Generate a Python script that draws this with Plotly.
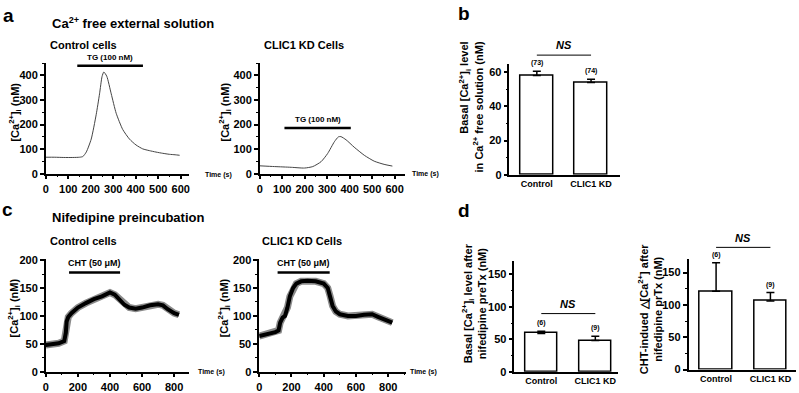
import plotly.graph_objects as go

# ---------------- data ----------------
# panel a : Ca2+ free external solution, TG (100 nM)
a_ctrl_t = [0, 40, 80, 120, 150, 165, 180, 202, 224, 239, 250, 258, 271, 291, 313, 342, 372, 401, 431, 460, 490, 520, 549, 575, 595]
a_ctrl_ca = [67, 67, 66, 66, 67, 70, 88, 141, 240, 325, 395, 414, 397, 325, 246, 180, 141, 117, 101, 94, 88, 83, 79, 77, 75]
a_kd_t = [0, 66, 140, 199, 236, 273, 302, 332, 350, 361, 384, 420, 465, 509, 553, 590]
a_kd_ca = [32, 29, 26, 23, 29, 49, 82, 130, 150, 151, 138, 108, 75, 51, 38, 31]
tg_ctrl = [140, 432]
tg_kd = [110, 405]

# panel c : nifedipine preincubation, CHT (50 uM)
c_ctrl_t = [0, 40, 80, 115, 125, 130, 140, 160, 200, 250, 300, 350, 400, 430, 460, 490, 520, 560, 600, 650, 700, 730, 760, 800, 830]
c_ctrl_ca = [48, 49, 51, 55, 70, 90, 98, 105, 115, 123, 130, 135, 142, 138, 130, 120, 115, 113, 115, 119, 121, 119, 112, 105, 102]
c_kd_t = [0, 50, 100, 120, 130, 145, 160, 175, 190, 210, 230, 260, 300, 350, 400, 425, 440, 455, 475, 500, 550, 600, 650, 700, 740, 780, 825]
c_kd_ca = [64, 67, 71, 74, 88, 97, 100, 115, 135, 150, 158, 162, 163, 162, 158, 150, 135, 118, 108, 103, 100, 100, 102, 103, 98, 94, 88]
cht_ctrl = [145, 463]
cht_kd = [114, 437]

# bar panels
groups = ["Control", "CLIC1 KD"]
b_mean = [58, 54]
b_sem = [2.6, 1.8]
b_n = ["(73)", "(74)"]
d1_mean = [59, 48]
d1_sem = [3.5, 6.5]
d1_n = ["(6)", "(9)"]
d2_mean = [121, 106]
d2_sem = [44, 13]
d2_n = ["(6)", "(9)"]

# ---------------- layout helpers ----------------
W, H = 799, 393
FONT = "Liberation Sans, Arial, sans-serif"


def px(x):
    return x / W


def py(y):
    return 1 - y / H


fig = go.Figure()

line_ax = dict(showline=True, linecolor="black", linewidth=1.5, showgrid=False, zeroline=False,
               ticks="outside", ticklen=4, tickwidth=1.5, tickcolor="black",
               tickfont=dict(family=FONT, size=11, color="black", weight="bold"))


def xa(dom, rng, dtick, minor):
    d = dict(line_ax)
    d.update(domain=[px(dom[0]), px(dom[1])], range=rng, dtick=dtick, tick0=0,
             minor=dict(dtick=minor, ticks="outside", ticklen=2, tickwidth=1, tickcolor="black"))
    return d


def ya(dom, rng, dtick, minor):
    d = dict(line_ax)
    d.update(domain=[py(dom[1]), py(dom[0])], range=rng, dtick=dtick, tick0=0,
             minor=dict(dtick=minor, ticks="outside", ticklen=2, tickwidth=1, tickcolor="black"))
    return d


def xcat(dom, rng):
    d = dict(line_ax)
    d.update(domain=[px(dom[0]), px(dom[1])], range=rng, type="category", ticks="",
             tickfont=dict(family=FONT, size=9, color="black", weight="bold"))
    return d


layout_axes = {
    "xaxis": xa([43, 187], [0, 637], 100, 50), "yaxis": ya([60, 174], [0, 450], 100, 50),
    "xaxis2": xa([258, 404], [0, 646], 100, 50), "yaxis2": ya([60, 174], [0, 450], 100, 50),
    "xaxis3": xcat([509, 620], [-0.505, 1.532]), "yaxis3": ya([60.5, 175], [0, 65], 20, 10),
    "xaxis4": xa([43, 187], [0, 893], 200, 100), "yaxis4": ya([262, 378.3], [0, 202], 50, 25),
    "xaxis5": xa([257.5, 405], [0, 910], 200, 100), "yaxis5": ya([262, 378.3], [0, 202], 50, 25),
    "xaxis6": xcat([514, 618], [-0.497, 1.418]), "yaxis6": ya([264, 378.3], [0, 170.6], 50, 25),
    "xaxis7": xcat([689, 797], [-0.507, 1.471]), "yaxis7": ya([261.7, 376], [0, 171.4], 50, 25),
}
for i in range(1, 8):
    s = "" if i == 1 else str(i)
    layout_axes["xaxis" + s]["anchor"] = "y" + s
    layout_axes["yaxis" + s]["anchor"] = "x" + s

# ---------------- traces ----------------
fig.add_trace(go.Scatter(x=a_ctrl_t, y=a_ctrl_ca, mode="lines", line=dict(color="#444", width=1, shape="spline", smoothing=0.6), xaxis="x", yaxis="y"))
fig.add_trace(go.Scatter(x=a_kd_t, y=a_kd_ca, mode="lines", line=dict(color="#444", width=1, shape="spline", smoothing=0.6), xaxis="x2", yaxis="y2"))

for t, c, ax in [(c_ctrl_t, c_ctrl_ca, "4"), (c_kd_t, c_kd_ca, "5")]:
    fig.add_trace(go.Scatter(x=t, y=c, mode="lines", line=dict(color="#8a8a8a", width=7), xaxis="x" + ax, yaxis="y" + ax))
    fig.add_trace(go.Scatter(x=t, y=c, mode="lines", line=dict(color="black", width=4), xaxis="x" + ax, yaxis="y" + ax))

bar_style = dict(marker=dict(color="white", line=dict(color="black", width=1.5)), width=0.6)
err_style = lambda e: dict(type="data", array=e, arrayminus=[0] * len(e), symmetric=False, color="black", thickness=1.5, width=4)
fig.add_trace(go.Bar(x=groups, y=b_mean, error_y=err_style(b_sem), xaxis="x3", yaxis="y3", **bar_style))
fig.add_trace(go.Bar(x=groups, y=d1_mean, error_y=err_style(d1_sem), xaxis="x6", yaxis="y6", **bar_style))
fig.add_trace(go.Bar(x=groups, y=d2_mean, error_y=err_style(d2_sem), xaxis="x7", yaxis="y7", **bar_style))

# ---------------- annotations ----------------
ann = []
shapes = []


def text(x, y, s, size, xanchor="center", yanchor="middle", bold=True, italic=False, angle=0, align="center", xref="paper", yref="paper", yshift=0):
    ann.append(dict(x=x, y=y, xref=xref, yref=yref, text=s, showarrow=False, xanchor=xanchor, yanchor=yanchor,
                    textangle=angle, align=align, yshift=yshift,
                    font=dict(family=FONT, size=size, color="black", weight="bold" if bold else "normal",
                              style="italic" if italic else "normal")))


# panel letters and titles
text(px(6), py(11), "a", 19)
text(px(463), py(9), "b", 19)
text(px(5), py(211), "c", 19)
text(px(463), py(212), "d", 19)
text(px(47), py(19), "Ca<sup>2+</sup> free external solution", 13, xanchor="left")
text(px(45), py(41), "Control cells", 11, xanchor="left")
text(px(260), py(41), "CLIC1 KD Cells", 11, xanchor="left")
text(px(47), py(219), "Nifedipine preincubation", 13, xanchor="left")
text(px(45), py(243), "Control cells", 11, xanchor="left")
text(px(258), py(243), "CLIC1 KD Cells", 11, xanchor="left")

# y titles
ca_title = "[Ca<sup>2+</sup>]<sub>i</sub> (nM)"
text(px(12), py(110), ca_title, 11, angle=-90)
text(px(223), py(110), ca_title, 11, angle=-90)
text(px(12), py(312), ca_title, 11, angle=-90)
text(px(223), py(312), ca_title, 11, angle=-90)
text(px(470), py(105), "Basal [Ca<sup>2+</sup>]<sub>i</sub> level<br>in Ca<sup>2+</sup> free solution (nM)", 11, angle=-90, align="right")
text(px(473), py(308), "Basal [Ca<sup>2+</sup>]<sub>i</sub> level after<br>nifedipine preTx (nM)", 11, angle=-90)
text(px(651), py(313), "CHT-indued △[Ca<sup>2+</sup>] after<br>nifedipine prTx (nM)", 11, angle=-90)

# time labels
text(px(201), py(175), "Time (s)", 7, xanchor="left")
text(px(409), py(174), "Time (s)", 7, xanchor="left")
text(px(194), py(379), "Time (s)", 7, xanchor="left")
text(px(407), py(379), "Time (s)", 7, xanchor="left")

# drug application bars
for (t0, t1), yv, lab, ax, sz, dy in [(tg_ctrl, 440, "TG (100 nM)", "", 8, 2), (tg_kd, 186, "TG (100 nM)", "2", 8, 2),
                                       (cht_ctrl, 178, "CHT (50 μM)", "4", 9, 2), (cht_kd, 178, "CHT (50 μM)", "5", 9, 2)]:
    shapes.append(dict(type="line", xref="x" + ax, yref="y" + ax, x0=t0, x1=t1, y0=yv, y1=yv, line=dict(color="black", width=2.5)))
    text((t0 + t1) / 2, yv, lab, sz, yanchor="bottom", xref="x" + ax, yref="y" + ax, yshift=dy)

# n labels and NS
for means, sems, ns, ax, ns_line, ns_text in [(b_mean, b_sem, b_n, "3", 51.7, 41.7),
                                               (d1_mean, d1_sem, d1_n, "6", 318.3, 308),
                                               (d2_mean, d2_sem, d2_n, "7", 250, 240.7)]:
    for g, m, s, n in zip(groups, means, sems, ns):
        text(g, m + s, n, 7, yanchor="bottom", xref="x" + ax, yref="y" + ax, yshift=2)
    shapes.append(dict(type="line", xref="x" + ax, yref="paper", x0=0, x1=1, y0=py(ns_line), y1=py(ns_line), line=dict(color="black", width=1)))
    text(0.5, py(ns_text), "NS", 11, italic=True, xref="x" + ax)

fig.update_layout(width=W, height=H, margin=dict(l=0, r=0, t=0, b=0), paper_bgcolor="white", plot_bgcolor="white",
                  showlegend=False, annotations=ann, shapes=shapes, bargap=0, **layout_axes)

fig.write_html("out.html", config={"displayModeBar": False}, post_script="document.body.style.margin='0';")
